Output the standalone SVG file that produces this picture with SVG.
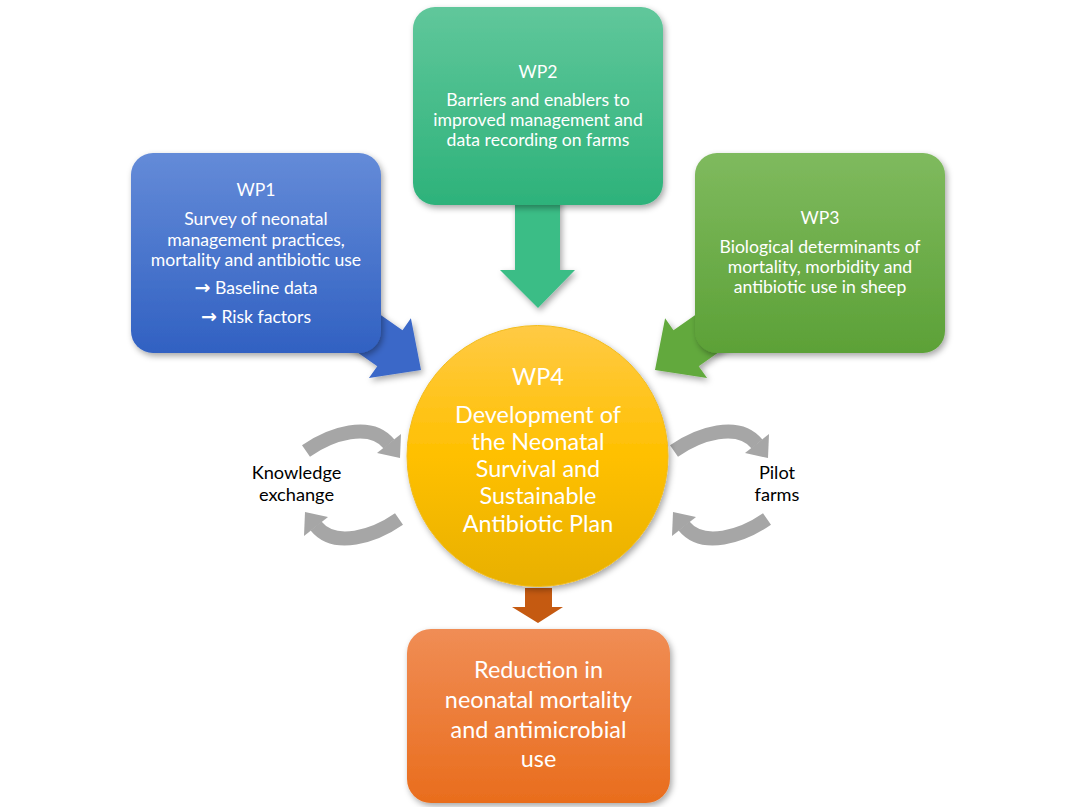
<svg xmlns="http://www.w3.org/2000/svg" xmlns:xlink="http://www.w3.org/1999/xlink" width="1073" height="807" viewBox="0 0 1073 807">
  <defs>
    <style>
      .t { font-family: Lato, "Liberation Sans", Arial, sans-serif; fill: #ffffff; text-anchor: middle; }
      .box { font-size: 17.6px; }
      .big { font-size: 23.4px; }
      .arr { font-family: "DejaVu Sans", sans-serif; font-weight: bold; font-size: 19px; }
      .lbl { font-family: Lato, "Liberation Sans", Arial, sans-serif; fill: #000000; text-anchor: middle; font-size: 18.2px; }
      .curl { fill: none; stroke: #a6a6a6; stroke-width: 14; }
    </style>
    <filter id="sh" x="-20%" y="-20%" width="140%" height="140%">
      <feDropShadow dx="2" dy="3" stdDeviation="3" flood-color="#000" flood-opacity="0.35"/>
    </filter>
    <linearGradient id="gBlue" x1="0" y1="0" x2="0" y2="1">
      <stop offset="0" stop-color="#648bd8"/>
      <stop offset="1" stop-color="#3161c2"/>
    </linearGradient>
    <linearGradient id="gTeal" x1="0" y1="0" x2="0" y2="1">
      <stop offset="0" stop-color="#60c79b"/>
      <stop offset="1" stop-color="#2db27a"/>
    </linearGradient>
    <linearGradient id="gGreen" x1="0" y1="0" x2="0" y2="1">
      <stop offset="0" stop-color="#7fba5e"/>
      <stop offset="1" stop-color="#5ca137"/>
    </linearGradient>
    <linearGradient id="gYellow" x1="0" y1="0" x2="0" y2="1">
      <stop offset="0" stop-color="#ffca45"/>
      <stop offset="0.5" stop-color="#ffc000"/>
      <stop offset="1" stop-color="#e8b000"/>
    </linearGradient>
    <linearGradient id="gOrange" x1="0" y1="0" x2="0" y2="1">
      <stop offset="0" stop-color="#f08d55"/>
      <stop offset="1" stop-color="#e96d1d"/>
    </linearGradient>
    <g id="curl">
      <path class="curl" d="M306,451 C330.6,433.9 370.1,420.9 389,444"/>
      <polygon points="401,434 400,458 377,453" fill="#a6a6a6"/>
    </g>
  </defs>

  <rect width="1073" height="807" fill="#ffffff"/>

  <g id="connectors">
    <polygon id="arrow-wp1" filter="url(#sh)" fill="#3a67c8" points="327.1,277.4 402.5,330.2 410.9,318.3 421,370 368.9,378.1 377.3,366.2 301.9,313.4"/>
    <polygon id="arrow-wp3" filter="url(#sh)" fill="#62a93d" points="748.9,277.4 673.5,330.2 665.1,318.3 655,370 707.1,378.1 698.7,366.2 774.1,313.4"/>
    <polygon id="arrow-wp2" filter="url(#sh)" fill="#3bbd86" points="515,190 560,190 560,270 575,270 538,308 500,270 515,270"/>
    <polygon id="arrow-out" fill="#c55a11" points="525,588 552,588 552,607 563,607 538,623 512,607 525,607"/>
    <g id="curl-knowledge">
      <use xlink:href="#curl"/>
      <use xlink:href="#curl" transform="rotate(180 352.5 485)"/>
    </g>
    <g id="curl-pilot">
      <use xlink:href="#curl" transform="translate(368 0)"/>
      <use xlink:href="#curl" transform="translate(368 0) rotate(180 352.5 485)"/>
    </g>
  </g>

  <g id="wp1">
    <rect x="131" y="153" width="250" height="200" rx="22" fill="url(#gBlue)" filter="url(#sh)"/>
    <text class="t box" x="256" y="196">WP1</text>
    <text class="t box" x="256" y="225">Survey of neonatal</text>
    <text class="t box" x="256" y="246">management practices,</text>
    <text class="t box" x="256" y="266">mortality and antibiotic use</text>
    <text class="t box" x="256" y="294"><tspan class="arr">→</tspan> Baseline data</text>
    <text class="t box" x="256" y="323"><tspan class="arr">→</tspan> Risk factors</text>
  </g>

  <g id="wp2">
    <rect x="413" y="7" width="250" height="198" rx="22" fill="url(#gTeal)" filter="url(#sh)"/>
    <text class="t box" x="538" y="78">WP2</text>
    <text class="t box" x="538" y="106">Barriers and enablers to</text>
    <text class="t box" x="538" y="126">improved management and</text>
    <text class="t box" x="538" y="146">data recording on farms</text>
  </g>

  <g id="wp3">
    <rect x="695" y="153" width="250" height="200" rx="22" fill="url(#gGreen)" filter="url(#sh)"/>
    <text class="t box" x="820" y="224">WP3</text>
    <text class="t box" x="820" y="253">Biological determinants of</text>
    <text class="t box" x="820" y="273">mortality, morbidity and</text>
    <text class="t box" x="820" y="293">antibiotic use in sheep</text>
  </g>

  <g id="wp4">
    <circle cx="537.5" cy="456" r="130.5" fill="url(#gYellow)" stroke="#f2bc1c" stroke-width="1" filter="url(#sh)"/>
    <text class="t big" x="538" y="385">WP4</text>
    <text class="t big" x="538" y="423">Development of</text>
    <text class="t big" x="538" y="450">the Neonatal</text>
    <text class="t big" x="538" y="477">Survival and</text>
    <text class="t big" x="538" y="504">Sustainable</text>
    <text class="t big" x="538" y="532">Antibiotic Plan</text>
  </g>

  <g id="outcome">
    <rect x="407" y="629" width="263" height="174" rx="24" fill="url(#gOrange)" filter="url(#sh)"/>
    <text class="t big" x="538.5" y="678">Reduction in</text>
    <text class="t big" x="538.5" y="708">neonatal mortality</text>
    <text class="t big" x="538.5" y="738">and antimicrobial</text>
    <text class="t big" x="538.5" y="767">use</text>
  </g>

  <g id="knowledge-exchange">
    <text class="lbl" x="296.5" y="479">Knowledge</text>
    <text class="lbl" x="296.5" y="501">exchange</text>
  </g>

  <g id="pilot-farms">
    <text class="lbl" x="777" y="479">Pilot</text>
    <text class="lbl" x="777" y="501">farms</text>
  </g>
</svg>
